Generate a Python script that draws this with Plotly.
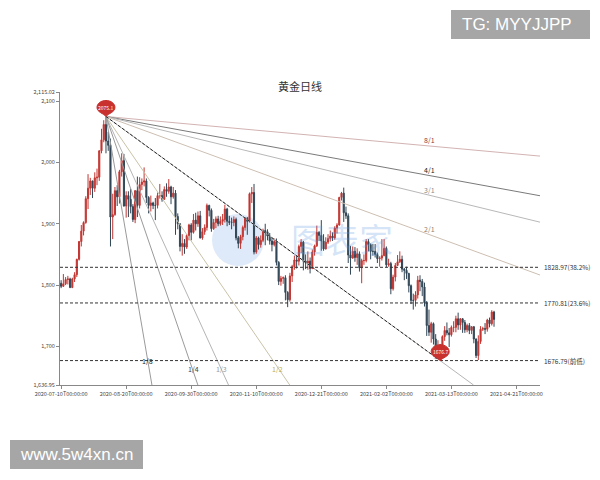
import plotly.graph_objects as go
import pandas as pd

title_text = "黄金日线"

# trading days (categories)
dates = [d.strftime("%Y-%m-%d") for d in pd.bdate_range("2020-07-10", "2021-04-09")
         if d.strftime("%Y-%m-%d") not in ("2020-12-25", "2021-01-01")]

opens = [1803, 1798, 1802, 1809, 1810, 1796, 1810, 1817, 1842, 1871, 1888, 1902, 1941, 1958, 1970, 1958,
         1975, 1976, 2019, 2037, 2062, 2035, 2028, 1911, 1915, 1954, 1944, 1985, 2003, 1929, 1946, 1940, 1928, 1907, 1954, 1930, 1964,
         1968, 1970, 1943, 1930, 1934, 1930, 1930, 1946, 1946, 1940, 1956, 1953, 1960, 1944, 1950, 1912, 1900, 1863, 1868, 1862, 1881, 1898,
         1886, 1906, 1900, 1913, 1877, 1887, 1894, 1930, 1922, 1892, 1902, 1908, 1900, 1904, 1907, 1924, 1904, 1902, 1902, 1907, 1877, 1868,
         1879, 1894, 1909, 1904, 1949, 1951, 1854, 1877, 1866, 1873, 1889, 1887, 1880, 1872, 1866, 1871, 1837, 1806, 1811, 1812, 1788,
         1776, 1815, 1830, 1841, 1839, 1863, 1870, 1839, 1836, 1839, 1827, 1854, 1864, 1886, 1881, 1872, 1859, 1870, 1876, 1880, 1877, 1893,
         1898, 1943, 1950, 1918, 1913, 1849, 1844, 1855, 1845, 1851, 1828, 1840, 1840, 1871, 1866, 1855, 1855, 1850, 1843, 1844,
         1848, 1860, 1833, 1835, 1794, 1813, 1832, 1838, 1842, 1826, 1824, 1819, 1799, 1775, 1775, 1784, 1808, 1806, 1797, 1771,
         1734, 1723, 1737, 1712, 1697, 1700, 1683, 1716, 1726, 1722, 1719, 1731, 1731, 1745, 1735, 1745, 1739, 1727, 1734, 1726, 1732, 1712, 1685,
         1708, 1728, 1729, 1728, 1743, 1737, 1756]
highs = [1808, 1818, 1813, 1815, 1812, 1812, 1821, 1843, 1872, 1898, 1904, 1945, 1981, 1975, 1970, 1984,
         1990, 2020, 2055, 2069, 2075.1, 2050, 2039, 1949, 1960, 1963, 1988, 2015, 2014, 1953, 1953, 1957, 1932, 1955, 1977, 1976, 1974,
         1992, 1974, 1945, 1946, 1936, 1942, 1951, 1965, 1953, 1961, 1966, 1973, 1962, 1960, 1955, 1917, 1901, 1883, 1875, 1883, 1900, 1901,
         1916, 1918, 1920, 1921, 1893, 1899, 1933, 1931, 1925, 1908, 1912, 1913, 1912, 1916, 1931, 1926, 1913, 1910, 1912, 1910, 1880, 1882,
         1897, 1911, 1911, 1951, 1960, 1965, 1880, 1879, 1881, 1892, 1900, 1891, 1885, 1877, 1876, 1876, 1839, 1815, 1814, 1816, 1790,
         1820, 1833, 1848, 1848, 1866, 1875, 1872, 1850, 1855, 1845, 1858, 1866, 1897, 1888, 1906, 1883, 1878, 1883, 1889, 1886, 1896, 1901,
         1944, 1952, 1959, 1928, 1917, 1864, 1863, 1862, 1860, 1855, 1843, 1850, 1875, 1875, 1868, 1867, 1867, 1853, 1847, 1875,
         1875, 1863, 1843, 1838, 1817, 1836, 1849, 1855, 1848, 1828, 1830, 1820, 1801, 1786, 1790, 1815, 1816, 1810, 1804, 1774,
         1760, 1740, 1739, 1720, 1710, 1704, 1718, 1733, 1739, 1730, 1734, 1741, 1750, 1755, 1746, 1746, 1743, 1737, 1738, 1733, 1733, 1713, 1718,
         1733, 1732, 1738, 1745, 1747, 1759, 1758]
lows = [1795, 1797, 1800, 1801, 1795, 1795, 1805, 1813, 1840, 1863, 1881, 1900, 1924, 1947, 1942, 1952,
        1963, 1970, 2015, 2033, 2015, 2019, 1863, 1875, 1913, 1929, 1933, 1977, 1928, 1910, 1911, 1917, 1903, 1901, 1911, 1925, 1955,
        1961, 1934, 1917, 1920, 1924, 1906, 1925, 1941, 1936, 1939, 1944, 1949, 1932, 1941, 1882, 1891, 1855, 1848, 1851, 1859, 1873, 1873,
        1884, 1889, 1895, 1876, 1874, 1882, 1889, 1912, 1887, 1890, 1893, 1896, 1897, 1898, 1902, 1896, 1898, 1891, 1896, 1873, 1860, 1859,
        1873, 1889, 1882, 1902, 1934, 1850, 1851, 1858, 1861, 1870, 1865, 1873, 1866, 1855, 1863, 1832, 1800, 1799, 1802, 1775, 1764,
        1773, 1805, 1825, 1827, 1832, 1852, 1824, 1826, 1825, 1819, 1826, 1848, 1862, 1872, 1856, 1856, 1858, 1867, 1871, 1872, 1874, 1884,
        1897, 1938, 1903, 1908, 1836, 1817, 1843, 1838, 1833, 1822, 1803, 1833, 1837, 1855, 1842, 1848, 1845, 1836, 1830, 1840,
        1847, 1829, 1830, 1785, 1791, 1806, 1832, 1836, 1821, 1808, 1810, 1788, 1769, 1760, 1765, 1778, 1790, 1782, 1765, 1717,
        1717, 1706, 1703, 1688, 1687, 1676.7, 1680, 1709, 1718, 1699, 1716, 1723, 1723, 1727, 1727, 1722, 1722, 1723, 1720, 1720, 1705, 1681, 1677.6,
        1704, 1725, 1720, 1724, 1731, 1734, 1732]
closes = [1798, 1802, 1809, 1810, 1796, 1810, 1817, 1842, 1871, 1888, 1902, 1941, 1958, 1970, 1958, 1975,
          1976, 2019, 2037, 2062, 2035, 2028, 1911, 1915, 1954, 1944, 1985, 2003, 1929, 1946, 1940, 1928, 1907, 1954, 1930, 1964, 1968,
          1970, 1943, 1930, 1934, 1930, 1930, 1946, 1946, 1940, 1956, 1953, 1960, 1944, 1950, 1912, 1900, 1863, 1868, 1862, 1881, 1898, 1886,
          1906, 1900, 1913, 1877, 1887, 1894, 1930, 1922, 1892, 1902, 1908, 1900, 1904, 1907, 1924, 1904, 1902, 1902, 1907, 1877, 1868, 1879,
          1894, 1909, 1904, 1949, 1951, 1854, 1877, 1866, 1873, 1889, 1887, 1880, 1872, 1866, 1871, 1837, 1806, 1811, 1812, 1788, 1776,
          1815, 1830, 1841, 1839, 1863, 1870, 1839, 1836, 1839, 1827, 1854, 1864, 1886, 1881, 1872, 1859, 1870, 1876, 1880, 1877, 1893, 1898,
          1943, 1950, 1918, 1913, 1849, 1844, 1855, 1845, 1851, 1828, 1840, 1840, 1871, 1866, 1855, 1855, 1850, 1843, 1844, 1848,
          1860, 1833, 1835, 1794, 1813, 1832, 1838, 1842, 1826, 1824, 1819, 1799, 1775, 1775, 1784, 1808, 1806, 1797, 1771, 1734,
          1723, 1737, 1712, 1697, 1700, 1683, 1716, 1726, 1722, 1719, 1731, 1731, 1745, 1735, 1745, 1739, 1727, 1734, 1726, 1732, 1712, 1685, 1708,
          1728, 1729, 1728, 1743, 1737, 1756, 1744]

x_tick_index = [0, 29, 58, 87, 116, 145, 174, 203]
x_tick_labels = ["2020-07-10T00:00:00", "2020-08-20T00:00:00", "2020-09-30T00:00:00", "2020-11-10T00:00:00",
                 "2020-12-21T00:00:00", "2021-02-02T00:00:00", "2021-03-13T00:00:00", "2021-04-21T00:00:00"]
n_categories = 214
y_min, y_max = 1636.95, 2115.02
y_tick_vals = [1636.95, 1700, 1800, 1900, 2000, 2100, 2115.02]
y_tick_labels = ["1,636.95", "1,700", "1,800", "1,900", "2,000", "2,100", "2,115.02"]

# key points
peak_idx, peak_val = 20, 2075.1
low_idx, low_val = 169, 1676.7

# horizontal reference levels
levels = [1828.97, 1770.81, 1676.79]
level_labels = ["1828.97(38.2%)", "1770.81(23.6%)", "1676.79(前低)"]

# Gann fan: multiples of the 1x1 slope
fan_mult = [1/8, 1/4, 1/3, 1/2, 1, 2, 3, 4, 8]
fan_names = ["8/1", "4/1", "3/1", "2/1", "1/1", "1/2", "1/3", "1/4", "1/8"]
fan_line_colors = ["#d3b3b3", "#7a7a7a", "#b8b8b8", "#cdbfb2", "#b5b5b5", "#c9c3a8", "#b5b5b5", "#9a9a9a", "#9a9a9a"]
fan_label_colors = ["#8e3b3b", "#222222", "#8a8a8a", "#8f7f70", None, "#c2ae45", "#9a9a9a", "#444444", "#222222"]

assert len(dates) == len(opens) == len(highs) == len(lows) == len(closes)
xs = list(range(len(dates)))
x_left, x_right = -0.5, n_categories - 0.5

fig = go.Figure()

# Gann fan lines
k = (peak_val - low_val) / (low_idx - peak_idx)
for m, name, col in zip(fan_mult, fan_names, fan_line_colors):
    s = m * k
    xb = peak_idx + (peak_val - y_min) / s
    if xb <= x_right:
        xe, ye = xb, y_min
    else:
        xe, ye = x_right, peak_val - s * (x_right - peak_idx)
    fig.add_trace(go.Scatter(x=[peak_idx, xe], y=[peak_val, ye], mode="lines",
                             line=dict(color=col, width=1), hoverinfo="skip", showlegend=False))

# dashed 1/1 arrow to the low
fig.add_trace(go.Scatter(x=[peak_idx, low_idx], y=[peak_val, low_val], mode="lines+markers",
                         line=dict(color="#222222", width=1, dash="3px,2px"),
                         marker=dict(symbol=["circle", "arrow"], size=[0, 7], color="#222222", angleref="previous"),
                         hoverinfo="skip", showlegend=False))

# candles
fig.add_trace(go.Candlestick(x=xs, open=opens, high=highs, low=lows, close=closes, text=dates,
                             increasing=dict(line=dict(color="#c23531", width=1), fillcolor="#c23531"),
                             decreasing=dict(line=dict(color="#314656", width=1), fillcolor="#314656"),
                             whiskerwidth=0, showlegend=False))

annotations = []
shapes = []

# horizontal dashed levels + labels
for v, lab in zip(levels, level_labels):
    shapes.append(dict(type="line", xref="x", yref="y", x0=x_left, x1=x_right, y0=v, y1=v,
                       line=dict(color="#333333", width=1, dash="3px,2px"), layer="above"))
    annotations.append(dict(xref="paper", yref="y", x=1, y=v, text=lab, showarrow=False,
                            xanchor="left", xshift=2, font=dict(size=6.5, color="#333333")))

# fan labels
for m, name, lc in zip(fan_mult, fan_names, fan_label_colors):
    if lc is None:
        continue
    s = m * k
    if m < 1:
        xl = 165
        yl = peak_val - s * (xl - peak_idx)
        annotations.append(dict(x=xl, y=yl, text=name, showarrow=False, yshift=6, xshift=-2,
                                font=dict(size=7, color=lc)))
    else:
        yl = levels[2]
        xl = peak_idx + (peak_val - yl) / s
        if m == 8:
            annotations.append(dict(x=xl, y=yl, text=name, showarrow=False,
                                    font=dict(size=7, color=lc)))
        else:
            annotations.append(dict(x=xl, y=yl, text=name, showarrow=False, yshift=-8, xshift=4,
                                    font=dict(size=7, color=lc)))

# pins
pin_path = "M 0 0 C -2 3 -9 4 -9 9 C -9 13 -5 16 0 16 C 5 16 9 13 9 9 C 9 4 2 3 0 0 Z"
for xi, yv, lab in [(peak_idx, peak_val, "2075.1"), (low_idx, low_val, "1676.7")]:
    shapes.append(dict(type="path", xref="x", yref="y", xsizemode="pixel", ysizemode="pixel",
                       xanchor=xi, yanchor=yv, path=pin_path, fillcolor="#c8312e",
                       line=dict(color="#c8312e", width=1), layer="above"))
    annotations.append(dict(x=xi, y=yv, text=lab, showarrow=False, yshift=9,
                            font=dict(size=5, color="white")))

# logo watermark (faint)
shapes.append(dict(type="circle", xref="paper", yref="paper",
                   x0=(212 - 60) / 480, x1=(264 - 60) / 480, y0=(385 - 266) / 293, y1=(385 - 214) / 293,
                   fillcolor="rgba(90,150,225,0.2)", line=dict(width=0), layer="below"))
annotations.append(dict(xref="paper", yref="paper", x=(342 - 60) / 480, y=(385 - 238) / 293,
                        xanchor="center", yanchor="middle", text="图表家", showarrow=False,
                        font=dict(size=34, color="rgba(90,150,225,0.25)", family="Noto Sans CJK SC")))

# watermark boxes
shapes.append(dict(type="rect", xref="paper", yref="paper", x0=(451 - 60) / 480, x1=(590 - 60) / 480,
                   y0=(385 - 39) / 293, y1=(385 - 10) / 293, fillcolor="#a6a6a6", line=dict(width=0), layer="above"))
annotations.append(dict(xref="paper", yref="paper", x=(517 - 60) / 480, y=(385 - 24.5) / 293, text="TG: MYYJJPP",
                        xanchor="center", yanchor="middle",
                        showarrow=False, font=dict(size=17, color="white", family="Liberation Sans")))
shapes.append(dict(type="rect", xref="paper", yref="paper", x0=(10 - 60) / 480, x1=(143 - 60) / 480,
                   y0=(385 - 469) / 293, y1=(385 - 440) / 293, fillcolor="#a6a6a6", line=dict(width=0), layer="above"))
annotations.append(dict(xref="paper", yref="paper", x=(76.5 - 60) / 480, y=(385 - 454.5) / 293, text="www.5w4xn.cn",
                        xanchor="center", yanchor="middle",
                        showarrow=False, font=dict(size=17, color="white", family="Liberation Sans")))

fig.update_layout(
    width=600, height=480,
    margin=dict(l=60, r=60, t=92, b=95),
    paper_bgcolor="white", plot_bgcolor="white",
    font=dict(family="Noto Sans CJK SC, DejaVu Sans, sans-serif", color="#333333"),
    title=dict(text=title_text, x=0.5, xanchor="center", y=(480 - 87) / 480, yanchor="middle",
               font=dict(size=11, color="#333333")),
    showlegend=False,
    annotations=annotations,
    shapes=shapes,
    xaxis=dict(range=[x_left, x_right], tickmode="array", tickvals=x_tick_index, ticktext=x_tick_labels,
               showgrid=False, zeroline=False, showline=True, linecolor="#888888", linewidth=1,
               ticks="outside", ticklen=3, tickcolor="#888888", tickfont=dict(size=5.5, color="#444444"),
               rangeslider=dict(visible=False), fixedrange=True),
    yaxis=dict(range=[y_min, y_max], tickmode="array", tickvals=y_tick_vals, ticktext=y_tick_labels,
               showgrid=False, zeroline=False, showline=True, linecolor="#888888", linewidth=1,
               ticks="outside", ticklen=3, tickcolor="#888888", tickfont=dict(size=5.5, color="#444444"),
               fixedrange=True),
)

fig.write_html("out.html", config={"displayModeBar": False},
               post_script="document.body.style.margin='0px';document.body.style.overflow='hidden';")
